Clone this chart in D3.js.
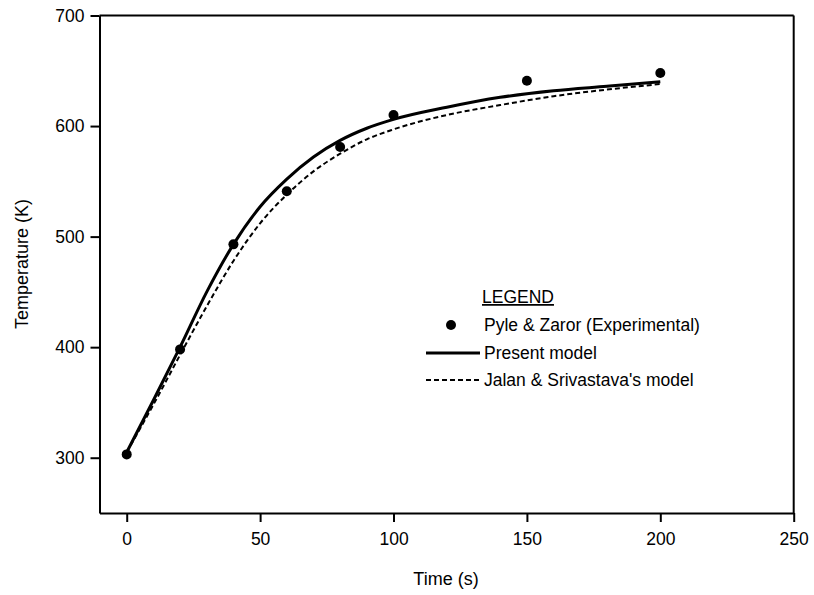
<!DOCTYPE html>
<html>
<head>
<meta charset="utf-8">
<script src="https://cdn.jsdelivr.net/npm/d3@7/dist/d3.min.js"></script>
<style>
  body { margin: 0; background: #fff; }
  svg text { font-family: "Liberation Sans", Arial, sans-serif; fill: #000; }
</style>
</head>
<body>
<div id="chart"></div>
<script>
// experimental points (Pyle & Zaror)
const expTime = [0, 20, 40, 60, 80, 100, 150, 200];
const expTemp = [303, 398, 493, 541, 581, 610, 641, 648];

// model curves
const modelTime = [0, 10, 20, 30, 40, 50, 60, 70, 80, 90, 100, 120, 140, 160, 180, 200];
const presentTemp = [305, 352, 400, 450, 493, 527, 552, 572, 587, 598, 606, 617, 626, 632, 636, 640];
const jalanTemp = [305, 348, 393, 437, 478, 512, 538, 559, 575, 588, 597, 610, 619, 627, 633, 638];

const xTicks = [0, 50, 100, 150, 200, 250];
const yTicks = [300, 400, 500, 600, 700];

const legendLabels = ["Pyle & Zaror (Experimental)", "Present model", "Jalan & Srivastava's model"];

const W = 814, H = 595;
const margin = {top: 15.5, right: 20.3, bottom: 82, left: 99.5};
const width = W - margin.left - margin.right;
const height = H - margin.top - margin.bottom;

const svg = d3.select('#chart').append('svg')
  .attr('width', W)
  .attr('height', H);

const g = svg.append('g')
  .attr('transform', 'translate(' + margin.left + ',' + margin.top + ')');

const x = d3.scaleLinear().domain([-10.2, 250]).range([0, width]);
const y = d3.scaleLinear().domain([250, 700]).range([height, 0]);

// axes
const xAxis = g.append('g')
  .attr('transform', 'translate(0,' + height + ')')
  .call(d3.axisBottom(x).tickValues(xTicks).tickSize(9).tickSizeOuter(0).tickPadding(11));
const yAxis = g.append('g')
  .call(d3.axisLeft(y).tickValues(yTicks).tickSize(9).tickSizeOuter(0).tickPadding(6));
[xAxis, yAxis].forEach(a => {
  a.select('.domain').attr('stroke', '#000').attr('stroke-width', 2);
  a.selectAll('.tick line').attr('stroke', '#000').attr('stroke-width', 2);
  a.selectAll('.tick text').style('font-size', '17.5px');
});

// frame top and right
g.append('line').attr('x1', 0).attr('x2', width).attr('y1', 0).attr('y2', 0)
  .attr('stroke', '#000').attr('stroke-width', 2);
g.append('line').attr('x1', width).attr('x2', width).attr('y1', 0).attr('y2', height)
  .attr('stroke', '#000').attr('stroke-width', 2);

// axis titles
svg.append('text')
  .attr('x', 446)
  .attr('y', 585)
  .attr('text-anchor', 'middle')
  .style('font-size', '18px')
  .text('Time (s)');
svg.append('text')
  .attr('transform', 'translate(28,' + 264 + ') rotate(-90)')
  .attr('text-anchor', 'middle')
  .style('font-size', '18px')
  .text('Temperature (K)');

// curves
const line = d3.line()
  .x(d => x(d[0]))
  .y(d => y(d[1]))
  .curve(d3.curveMonotoneX);

g.append('path')
  .datum(modelTime.map((t, i) => [t, jalanTemp[i]]))
  .attr('fill', 'none')
  .attr('stroke', '#000')
  .attr('stroke-width', 2)
  .attr('stroke-dasharray', '5,3')
  .attr('d', line);

g.append('path')
  .datum(modelTime.map((t, i) => [t, presentTemp[i]]))
  .attr('fill', 'none')
  .attr('stroke', '#000')
  .attr('stroke-width', 3)
  .attr('d', line);

g.selectAll('.pt')
  .data(expTime.map((t, i) => [t, expTemp[i]]))
  .enter().append('circle')
  .attr('class', 'pt')
  .attr('cx', d => x(d[0]))
  .attr('cy', d => y(d[1]))
  .attr('r', 5)
  .attr('fill', '#000');

// legend
const lg = svg.append('g').attr('transform', 'translate(482,303)');
lg.append('text')
  .attr('x', 0).attr('y', 0)
  .style('font-size', '17.5px')
  .style('text-decoration', 'underline')
  .text('LEGEND');
lg.selectAll('.lab')
  .data(legendLabels)
  .enter().append('text')
  .attr('class', 'lab')
  .attr('x', 2)
  .attr('y', (d, i) => 28 + i * 27.5)
  .style('font-size', '17.5px')
  .text(d => d);
lg.append('circle').attr('cx', -31).attr('cy', 22).attr('r', 5).attr('fill', '#000');
lg.append('line').attr('x1', -56).attr('x2', -2).attr('y1', 50).attr('y2', 50)
  .attr('stroke', '#000').attr('stroke-width', 3);
lg.append('line').attr('x1', -56).attr('x2', -2).attr('y1', 77).attr('y2', 77)
  .attr('stroke', '#000').attr('stroke-width', 2).attr('stroke-dasharray', '5,3');
</script>
</body>
</html>
